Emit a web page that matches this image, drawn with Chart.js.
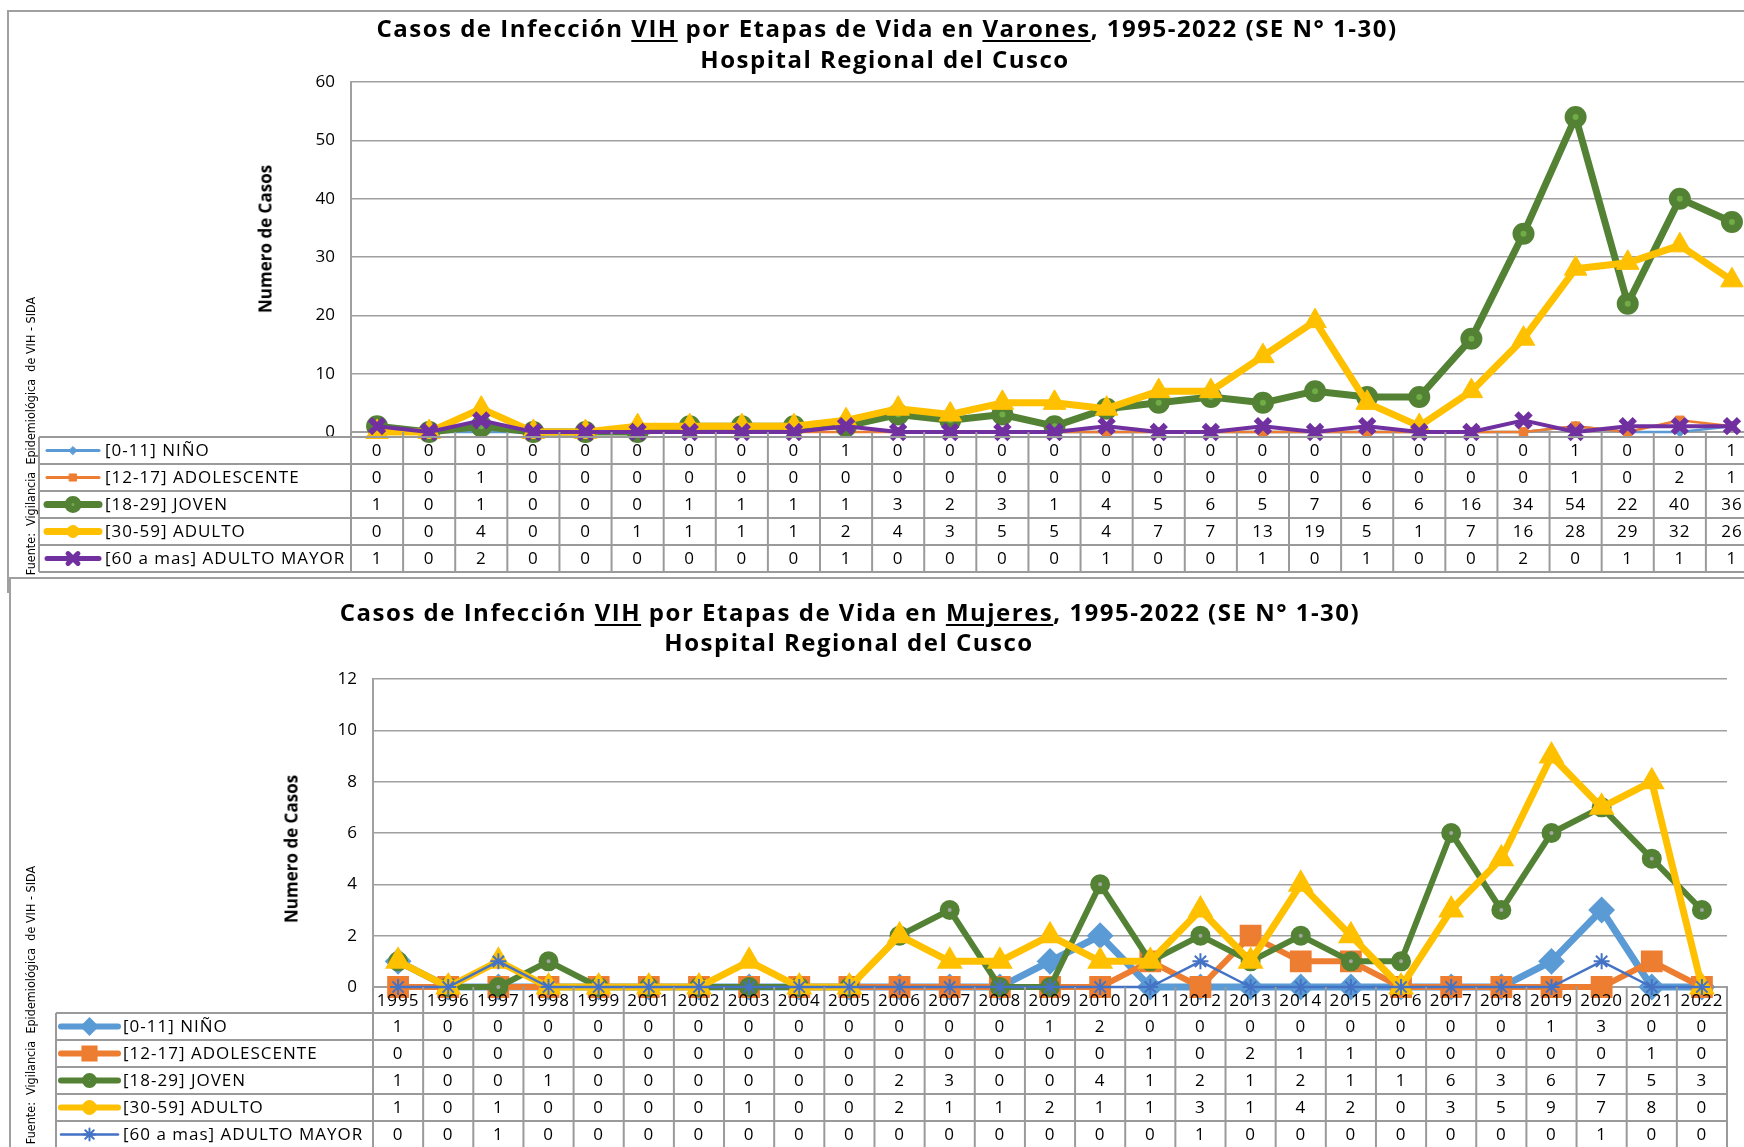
<!DOCTYPE html>
<html>
<head>
<meta charset="utf-8">
<title>Casos de Infección VIH por Etapas de Vida</title>
<script src="https://cdn.jsdelivr.net/npm/chart.js@4.4.0/dist/chart.umd.min.js"></script>
<style>
  body { margin:0; width:1744px; height:1147px; overflow:hidden; background:#fff; position:relative; font-family:'Open Sans', sans-serif; }
  .frame { position:absolute; border:2px solid #a0a0a0; background:#fff; box-sizing:border-box; }
  #f1 { left:7px; top:10px; width:1800px; height:583px; z-index:1; }
  #f2 { left:9px; top:577px; width:1800px; height:600px; z-index:3; }
  canvas { position:absolute; left:0; }
  #c1 { top:0; z-index:2; }
  #c2 { top:578px; z-index:4; }
  .title { position:absolute; width:1400px; text-align:center; font-weight:bold; font-size:24px; letter-spacing:1.5px; color:#000; z-index:6; line-height:30px; white-space:nowrap; }
  .title u { text-decoration-thickness:2px; text-underline-offset:3px; }
  .rot { position:absolute; transform:translate(-50%,-50%) rotate(-90deg); white-space:pre; z-index:6; color:#000; }
  .ytitle { font-weight:bold; font-size:17px; }
  .src { font-family:'Liberation Sans Narrow','DejaVu Sans Condensed',sans-serif; font-size:12.5px; }
</style>
</head>
<body>
<div class="frame" id="f1"></div>
<canvas id="c1" width="1800" height="592"></canvas>
<div class="frame" id="f2"></div>
<canvas id="c2" width="1800" height="569"></canvas>

<div class="title" style="left:187px; top:13px;">Casos de Infección <u>VIH</u> por Etapas de Vida en <u>Varones</u>, 1995-2022 (SE N° 1-30)</div>
<div class="title" style="left:185px; top:44px;">Hospital Regional del Cusco</div>
<div class="rot ytitle" style="left:265px; top:239px;">Numero de Casos</div>
<div class="rot src" style="left:30px; top:436px;">Fuente:  Vigilancia  Epidemiológica  de VIH - SIDA</div>

<div class="title" style="left:150px; top:597px;">Casos de Infección <u>VIH</u> por Etapas de Vida en <u>Mujeres</u>, 1995-2022 (SE N° 1-30)</div>
<div class="title" style="left:149px; top:627px;">Hospital Regional del Cusco</div>
<div class="rot ytitle" style="left:291px; top:849px;">Numero de Casos</div>
<div class="rot src" style="left:30px; top:1005px;">Fuente:  Vigilancia  Epidemiológica  de VIH - SIDA</div>

<script>
// years (2000 is not in the source table)
const years = ['1995','1996','1997','1998','1999','2001','2002','2003','2004','2005','2006','2007','2008','2009',
  '2010','2011','2012','2013','2014','2015','2016','2017','2018','2019','2020','2021','2022'];
const groups = ['[0-11] NIÑO', '[12-17] ADOLESCENTE', '[18-29] JOVEN', '[30-59] ADULTO', '[60 a mas] ADULTO MAYOR'];

// Varones
const varNino   = [0,0,0,0,0,0,0,0,0,1,0,0,0,0,0,0,0,0,0,0,0,0,0,1,0,0,1];
const varAdol   = [0,0,1,0,0,0,0,0,0,0,0,0,0,0,0,0,0,0,0,0,0,0,0,1,0,2,1];
const varJoven  = [1,0,1,0,0,0,1,1,1,1,3,2,3,1,4,5,6,5,7,6,6,16,34,54,22,40,36];
const varAdulto = [0,0,4,0,0,1,1,1,1,2,4,3,5,5,4,7,7,13,19,5,1,7,16,28,29,32,26];
const varMayor  = [1,0,2,0,0,0,0,0,0,1,0,0,0,0,1,0,0,1,0,1,0,0,2,0,1,1,1];

// Mujeres
const mujNino   = [1,0,0,0,0,0,0,0,0,0,0,0,0,1,2,0,0,0,0,0,0,0,0,1,3,0,0];
const mujAdol   = [0,0,0,0,0,0,0,0,0,0,0,0,0,0,0,1,0,2,1,1,0,0,0,0,0,1,0];
const mujJoven  = [1,0,0,1,0,0,0,0,0,0,2,3,0,0,4,1,2,1,2,1,1,6,3,6,7,5,3];
const mujAdulto = [1,0,1,0,0,0,0,1,0,0,2,1,1,2,1,1,3,1,4,2,0,3,5,9,7,8,0];
const mujMayor  = [0,0,1,0,0,0,0,0,0,0,0,0,0,0,0,0,1,0,0,0,0,0,0,0,1,0,0];

const varTicks = [0, 10, 20, 30, 40, 50, 60];
const mujTicks = [0, 2, 4, 6, 8, 10, 12];

// series look, one per group
const varStyle = [
  {color:'#5B9BD5', bg:'#5B9BD5', w:2.5, pt:'rectRot', r:5, bw:1, kw:3, kr:4, kbw:1},
  {color:'#ED7D31', bg:'#ED7D31', w:2.5, pt:'rect', r:6, bw:1, kw:3, kr:5, kbw:1},
  {color:'#548235', bg:'#70AD47', w:7, pt:'circle', r:7, bw:8, kw:7, kr:5, kbw:7},
  {color:'#FFC000', bg:'#FFC000', w:7, pt:'triangle', r:13, bw:1, kw:7, kr:6, kbw:1, kpt:'circle'},
  {color:'#7030A0', bg:'#7030A0', w:4, pt:'crossRot', r:10, bw:6, kw:5, kr:7, kbw:5}
];
const mujStyle = [
  {color:'#5B9BD5', bg:'#5B9BD5', w:7, pt:'rectRot', r:12, bw:2, kw:6, kr:8, kbw:2},
  {color:'#ED7D31', bg:'#ED7D31', w:6, pt:'rect', r:14, bw:2, kw:6, kr:10, kbw:2},
  {color:'#548235', bg:'#A5A5A5', w:6, pt:'circle', r:6, bw:8, kw:6, kr:4, kbw:7},
  {color:'#FFC000', bg:'#FFC000', w:7, pt:'triangle', r:13, bw:2, kw:6, kr:7, kbw:1, kpt:'circle'},
  {color:'#4472C4', bg:'#4472C4', w:2.5, pt:'star', r:8, bw:2, kw:2.5, kr:6, kbw:2}
];

const gridCol = '#a0a0a0';
const tableCol = '#9a9a9a';

function seg(ctx, x1, y1, x2, y2) {
  ctx.beginPath(); ctx.moveTo(x1, y1); ctx.lineTo(x2, y2); ctx.stroke();
}

// data table under the plot, with legend keys in the first column
const dataTable = {
  id: 'dataTable',
  afterDraw(chart, args, o) {
    const {ctx, chartArea: a} = chart;
    const x = chart.scales.x;
    const n = chart.data.labels.length;
    const cw = (a.right - a.left) / n;
    const sets = chart.data.datasets;
    const bottom = o.tableTop + sets.length * o.rowH;
    ctx.save();
    ctx.strokeStyle = tableCol;
    ctx.lineWidth = 2;
    for (let i = 0; i <= n; i++) {
      const xx = a.left + i * cw;
      seg(ctx, xx, a.bottom, xx, bottom);
    }
    for (let r = 0; r <= sets.length; r++) {
      seg(ctx, o.legendLeft, o.tableTop + r * o.rowH, a.right, o.tableTop + r * o.rowH);
    }
    seg(ctx, o.legendLeft, o.tableTop, o.legendLeft, bottom);

    ctx.fillStyle = '#000';
    ctx.font = '17px "Open Sans"';
    ctx.letterSpacing = '1px';
    ctx.textAlign = 'center';
    ctx.textBaseline = 'middle';
    if (o.header) {
      chart.data.labels.forEach((lab, i) => {
        ctx.fillText(lab, x.getPixelForValue(i), (a.bottom + o.tableTop) / 2 + 1);
      });
    }
    sets.forEach((ds, r) => {
      const cy = o.tableTop + r * o.rowH + o.rowH / 2 + 1;
      ctx.fillStyle = '#000';
      ctx.textAlign = 'center';
      ds.data.forEach((v, i) => ctx.fillText(String(v), x.getPixelForValue(i), cy));
      ctx.textAlign = 'left';
      ctx.fillText(ds.label, o.textX, cy);
      // key
      const s = o.styles[r];
      ctx.strokeStyle = s.color;
      ctx.lineWidth = s.kw;
      ctx.lineCap = 'round';
      seg(ctx, o.keyX1, cy - 1, o.keyX2, cy - 1);
      ctx.fillStyle = s.bg;
      ctx.strokeStyle = s.color;
      ctx.lineWidth = s.kbw;
      Chart.helpers.drawPoint(ctx, {pointStyle: s.kpt || s.pt, rotation: 0, radius: s.kr, borderWidth: s.kbw},
        (o.keyX1 + o.keyX2) / 2, cy - 1);
      ctx.strokeStyle = tableCol;
      ctx.lineWidth = 2;
      ctx.lineCap = 'butt';
    });
    ctx.restore();
  }
};

function makeSets(series, styles) {
  return series.map((data, i) => {
    const s = styles[i];
    return {
      label: groups[i],
      data: data,
      borderColor: s.color,
      backgroundColor: s.color,
      borderWidth: s.w,
      borderJoinStyle: 'round',
      borderCapStyle: 'round',
      pointStyle: s.pt,
      pointRadius: s.r,
      pointBorderWidth: s.bw,
      pointBackgroundColor: s.bg,
      pointBorderColor: s.color,
      tension: 0,
      fill: false,
      clip: false,
      order: series.length - i
    };
  });
}

function makeChart(id, series, styles, ticks, pad, table) {
  const max = ticks[ticks.length - 1];
  return new Chart(document.getElementById(id), {
    type: 'line',
    data: { labels: years, datasets: makeSets(series, styles) },
    options: {
      responsive: false,
      animation: false,
      devicePixelRatio: 1,
      events: [],
      layout: { padding: pad },
      plugins: { legend: { display: false }, tooltip: { enabled: false }, title: { display: false }, dataTable: table },
      scales: {
        x: {
          offset: true,
          grid: { display: false },
          border: { display: true, color: gridCol, width: 2 },
          ticks: { display: false },
          afterFit: s => { s.height = 0; }
        },
        y: {
          min: 0, max: max,
          afterBuildTicks: s => { s.ticks = ticks.map(v => ({ value: v })); },
          grid: { color: gridCol, lineWidth: 1.5, drawTicks: false },
          border: { display: true, color: gridCol, width: 2 },
          ticks: { padding: 16, color: '#000', font: { family: 'Open Sans', size: 17 } },
          afterFit: s => { s.width = 60; }
        }
      }
    },
    plugins: [dataTable]
  });
}

makeChart('c1', [varNino, varAdol, varJoven, varAdulto, varMayor], varStyle, varTicks,
  { left: 291, top: 82, right: 42, bottom: 160 },
  { tableTop: 437, rowH: 27, legendLeft: 39, keyX1: 47, keyX2: 99, textX: 105, header: false, styles: varStyle });

makeChart('c2', [mujNino, mujAdol, mujJoven, mujAdulto, mujMayor], mujStyle, mujTicks,
  { left: 313, top: 101, right: 73, bottom: 160 },
  { tableTop: 435, rowH: 27, legendLeft: 56, keyX1: 61, keyX2: 118, textX: 123, header: true, styles: mujStyle });
</script>
</body>
</html>
